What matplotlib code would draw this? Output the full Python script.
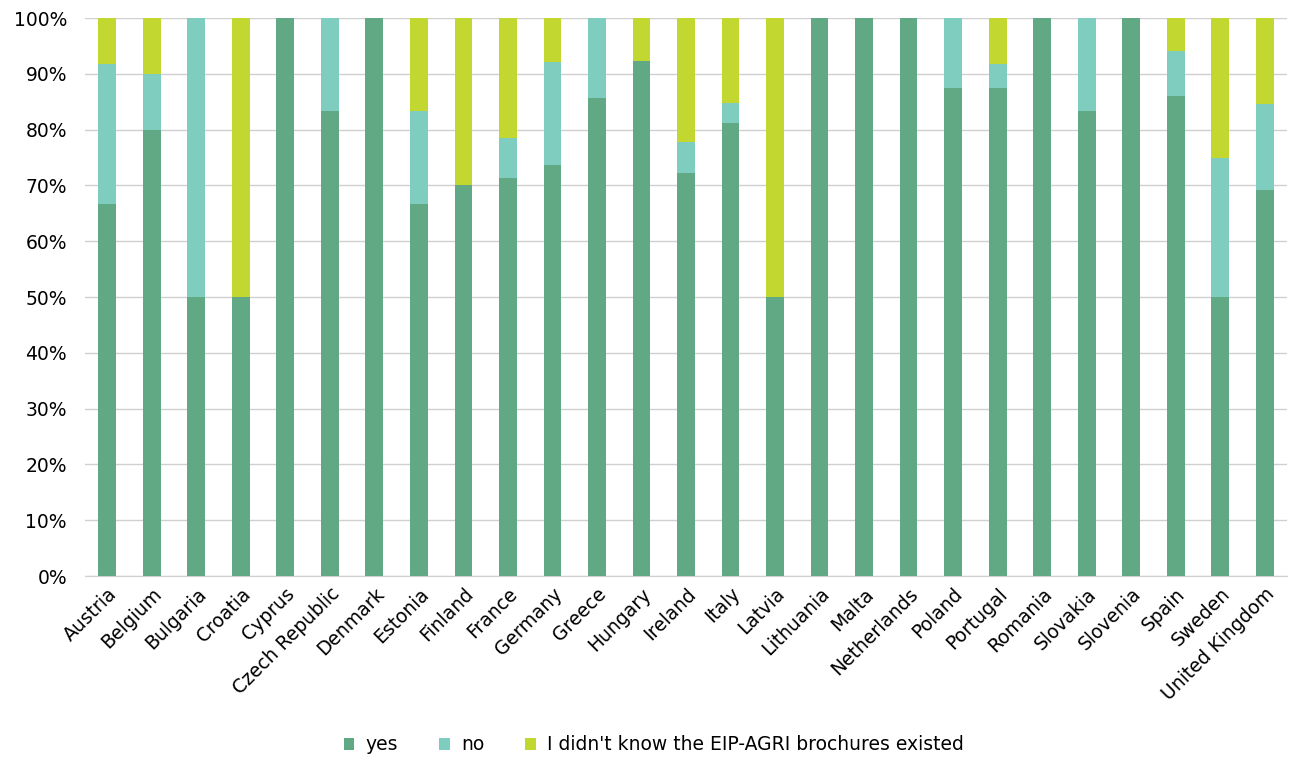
import numpy as np
import matplotlib.pyplot as plt
from matplotlib.ticker import PercentFormatter

countries = ["Austria", "Belgium", "Bulgaria", "Croatia", "Cyprus", "Czech Republic",
             "Denmark", "Estonia", "Finland", "France", "Germany", "Greece", "Hungary",
             "Ireland", "Italy", "Latvia", "Lithuania", "Malta", "Netherlands", "Poland",
             "Portugal", "Romania", "Slovakia", "Slovenia", "Spain", "Sweden",
             "United Kingdom"]
yes = [66.7, 80.0, 50.0, 50.0, 100, 83.3, 100, 66.7, 70.0, 71.4, 73.7, 85.7, 92.3,
       72.2, 81.2, 50.0, 100, 100, 100, 87.5, 87.5, 100, 83.3, 100, 86.0, 50.0, 69.2]
no = [25.0, 10.0, 50.0, 0, 0, 16.7, 0, 16.7, 0, 7.1, 18.4, 14.3, 0,
      5.6, 3.6, 0, 0, 0, 0, 12.5, 4.2, 0, 16.7, 0, 8.0, 25.0, 15.4]
dont_know = [8.3, 10.0, 0, 50.0, 0, 0, 0, 16.6, 30.0, 21.5, 7.9, 0, 7.7,
             22.2, 15.2, 50.0, 0, 0, 0, 0, 8.3, 0, 0, 0, 6.0, 25.0, 15.4]

c_yes = "#61a985"
c_no = "#7fcdbf"
c_dk = "#c2d72f"

plt.rcParams["font.family"] = ["DejaVu Sans"]

fig = plt.figure(figsize=(13.08, 7.61), dpi=100)
ax = fig.add_axes([85 / 1308, 1 - 576 / 761, 1202 / 1308, 558 / 761])

x = np.arange(len(countries))
yes = np.array(yes)
no = np.array(no)
dont_know = np.array(dont_know)
w = 0.4
ax.bar(x, yes, w, color=c_yes, label="yes", zorder=3)
ax.bar(x, no, w, bottom=yes, color=c_no, label="no", zorder=3)
ax.bar(x, dont_know, w, bottom=yes + no, color=c_dk,
       label="I didn't know the EIP-AGRI brochures existed", zorder=3)

ax.set_xlim(-0.5, len(countries) - 0.5)
ax.set_ylim(0, 100)
ax.set_yticks(np.arange(0, 101, 10))
ax.yaxis.set_major_formatter(PercentFormatter(decimals=0))
ax.grid(axis="y", color="#d0d0d0", linewidth=1, zorder=0)
for s in ["top", "right", "left"]:
    ax.spines[s].set_visible(False)
ax.spines["bottom"].set_color("#d0d0d0")
ax.tick_params(axis="both", length=0, labelsize=13.5, colors="#000000")
ax.tick_params(axis="y", pad=13)
ax.tick_params(axis="x", pad=6)
ax.set_xticks(x)
ax.set_xticklabels(countries, rotation=45, ha="right", rotation_mode="anchor")

handles, labels = ax.get_legend_handles_labels()
fig.legend(handles, labels, loc="center", bbox_to_anchor=(0.5, 1 - 745 / 761),
           ncol=3, frameon=False, fontsize=13.5, handlelength=0.55, handleheight=0.55,
           columnspacing=2.2, handletextpad=0.6)

fig.savefig("out.png", dpi=100)
